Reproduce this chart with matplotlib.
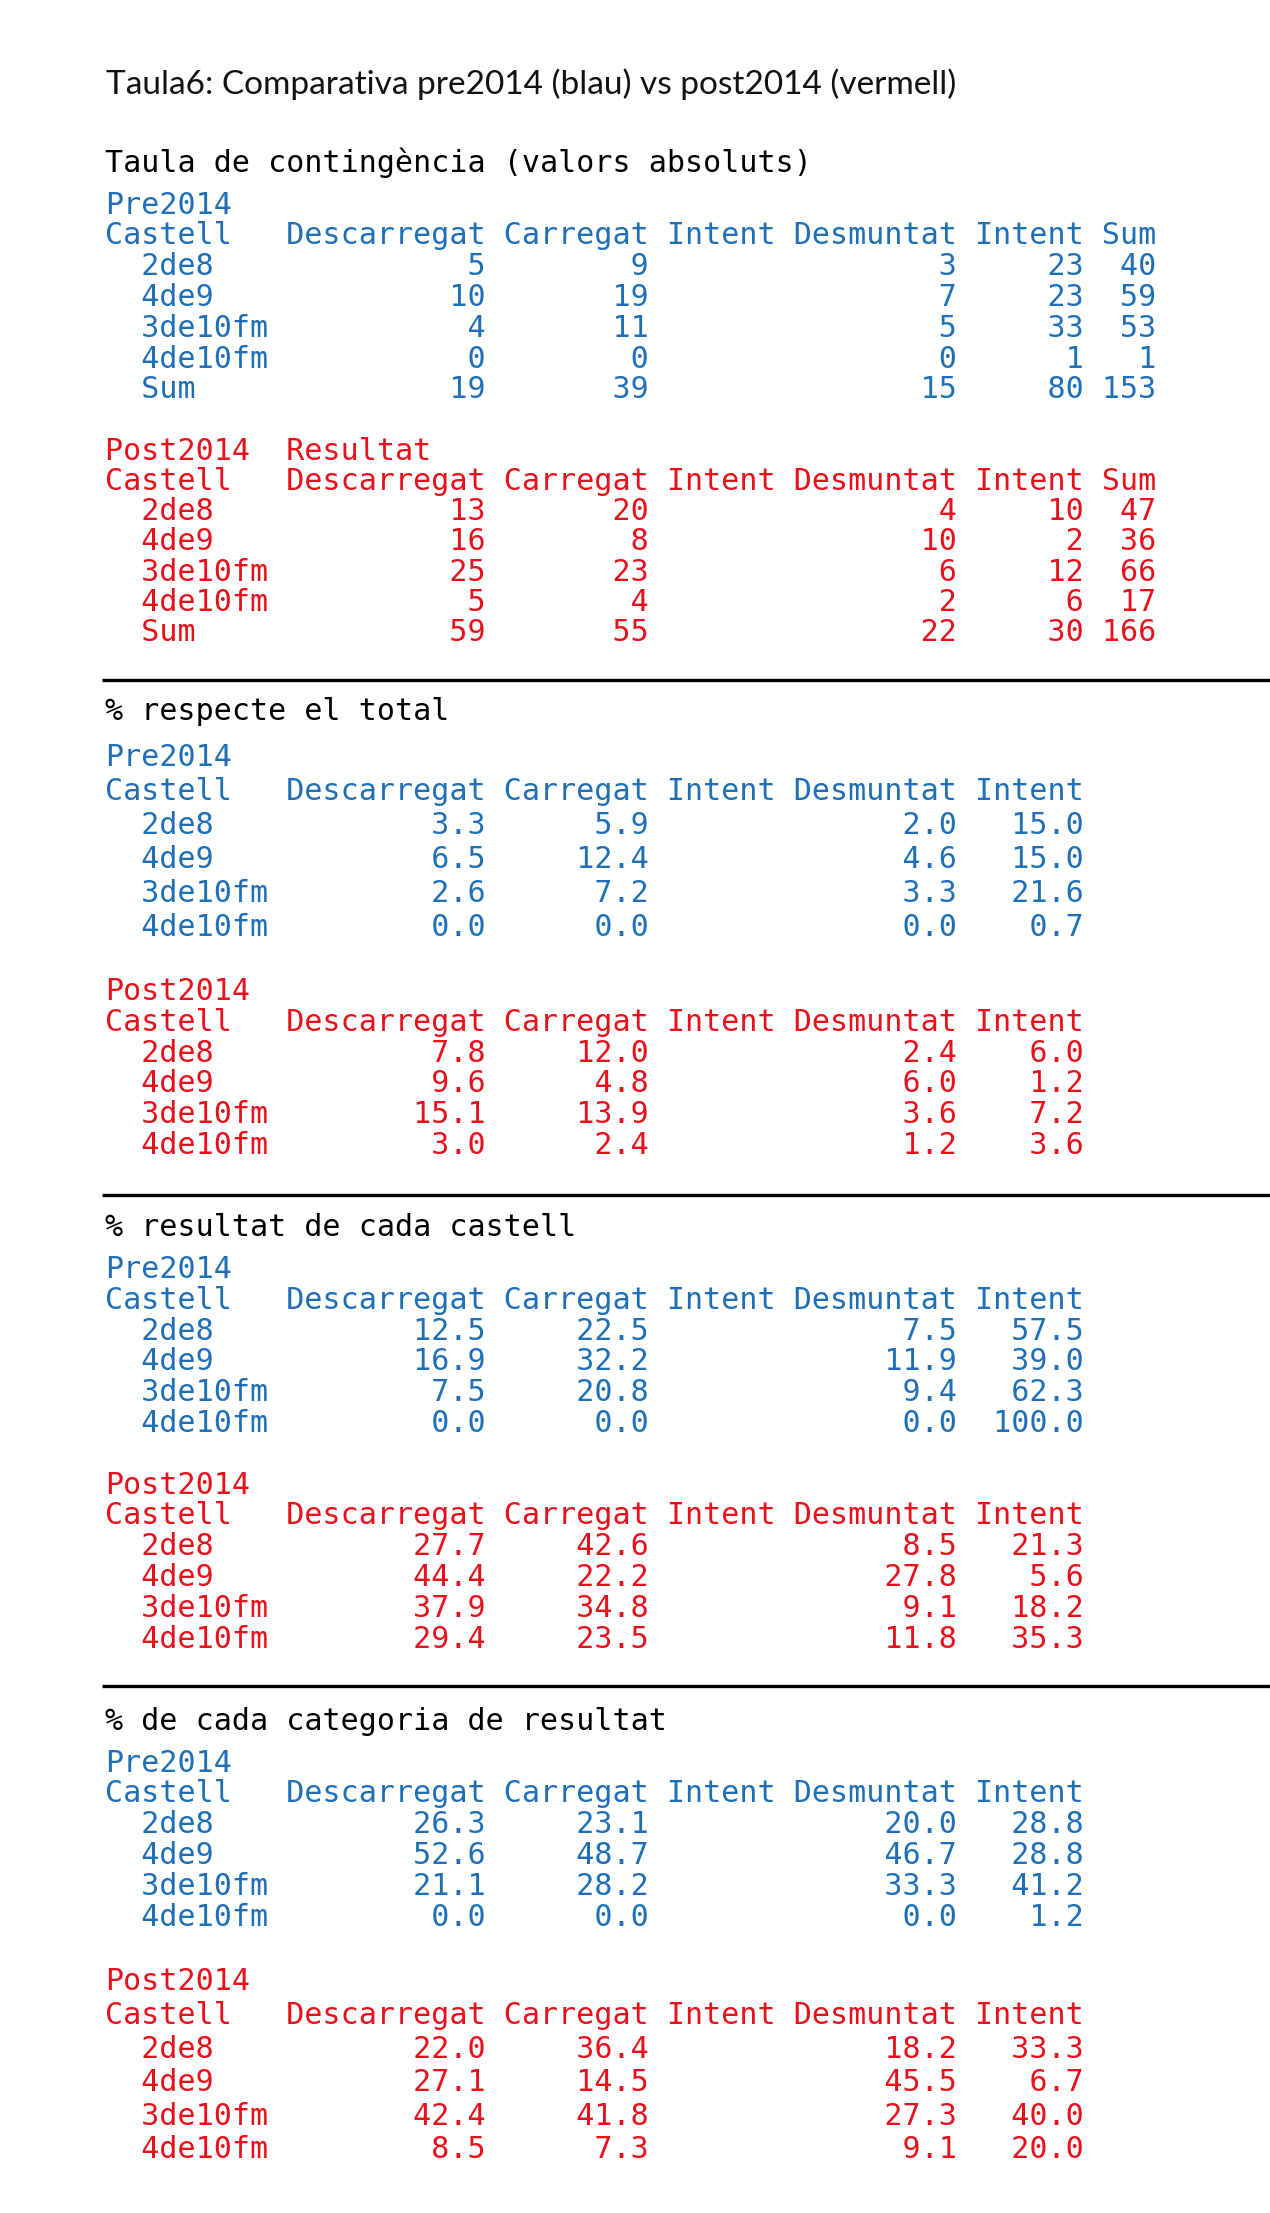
import matplotlib
matplotlib.use("Agg")
import matplotlib.pyplot as plt

# Dades de la taula (llegides de la imatge)
castells = ['2de8', '4de9', '3de10fm', '4de10fm']
resultats = ['Descarregat', 'Carregat', 'Intent Desmuntat', 'Intent']

pre_counts = [[5, 9, 3, 23], [10, 19, 7, 23], [4, 11, 5, 33], [0, 0, 0, 1]]
post_counts = [[13, 20, 4, 10], [16, 8, 10, 2], [25, 23, 6, 12], [5, 4, 2, 6]]

pre_pct_total = [[3.3, 5.9, 2.0, 15.0], [6.5, 12.4, 4.6, 15.0], [2.6, 7.2, 3.3, 21.6], [0.0, 0.0, 0.0, 0.7]]
post_pct_total = [[7.8, 12.0, 2.4, 6.0], [9.6, 4.8, 6.0, 1.2], [15.1, 13.9, 3.6, 7.2], [3.0, 2.4, 1.2, 3.6]]

pre_pct_castell = [[12.5, 22.5, 7.5, 57.5], [16.9, 32.2, 11.9, 39.0], [7.5, 20.8, 9.4, 62.3], [0.0, 0.0, 0.0, 100.0]]
post_pct_castell = [[27.7, 42.6, 8.5, 21.3], [44.4, 22.2, 27.8, 5.6], [37.9, 34.8, 9.1, 18.2], [29.4, 23.5, 11.8, 35.3]]

pre_pct_cat = [[26.3, 23.1, 20.0, 28.8], [52.6, 48.7, 46.7, 28.8], [21.1, 28.2, 33.3, 41.2], [0.0, 0.0, 0.0, 1.2]]
post_pct_cat = [[22.0, 36.4, 18.2, 33.3], [27.1, 14.5, 45.5, 6.7], [42.4, 41.8, 27.3, 40.0], [8.5, 7.3, 9.1, 20.0]]

BLUE = '#1f6fb6'
RED = '#e8101a'
MONO = 'DejaVu Sans Mono'
FS = 21.6


# Format R-like: columna d'etiquetes de 9 caracters, columnes alineades a la dreta
def table_lines(values, decimals, with_sum):
    cols = list(resultats) + (['Sum'] if with_sum else [])
    widths = [len(c) for c in cols]
    header = 'Castell'.ljust(9) + ' ' + ' '.join(cols)
    lines = [header]
    rows = [list(r) for r in values]
    labels = list(castells)
    if with_sum:
        rows = [r + [sum(r)] for r in rows]
        rows.append([sum(r[i] for r in rows) for i in range(len(cols))])
        labels.append('Sum')
    for lab, r in zip(labels, rows):
        cells = [f'{v:.{decimals}f}' if decimals else f'{v:d}' for v in r]
        line = ('  ' + lab).ljust(9) + ' ' + ' '.join(c.rjust(w) for c, w in zip(cells, widths))
        lines.append(line)
    return lines


fig = plt.figure(figsize=(12.7, 22.13), dpi=100)
ax = fig.add_axes([0, 0, 1, 1])
ax.set_xlim(0, 1270)
ax.set_ylim(2213, 0)
ax.axis('off')

X0 = 105
BASE = 10.5  # centre -> baseline


def draw_block(y0, step, first, lines, color):
    allx = [first] + lines
    for i, s in enumerate(allx):
        ax.text(X0, y0 + i * step + BASE, s, family=MONO, fontsize=FS,
                color=color, va='baseline', ha='left')


ax.text(106, 94, 'Taula6: Comparativa pre2014 (blau) vs post2014 (vermell)',
        family='Lato', fontsize=24, color='#111111', va='baseline', ha='left')

sections = [
    (161, None, 'Taula de contingència (valors absoluts)',
     (pre_counts, 0, True, 203, 30.8), (post_counts, 0, True, 449, 30.3)),
    (710, 680, '% respecte el total',
     (pre_pct_total, 1, False, 756, 34.0), (post_pct_total, 1, False, 990, 30.6)),
    (1226, 1195, '% resultat de cada castell',
     (pre_pct_castell, 1, False, 1268, 30.6), (post_pct_castell, 1, False, 1483, 30.8)),
    (1719, 1686, '% de cada categoria de resultat',
     (pre_pct_cat, 1, False, 1761, 30.8), (post_pct_cat, 1, False, 1980, 33.6)),
]

for ty, ly, title, pre, post in sections:
    if ly is not None:
        ax.plot([102, 1270], [ly, ly], color='black', lw=2.4, solid_capstyle='butt')
    ax.text(X0, ty + BASE, title, family=MONO, fontsize=FS, color='black', va='baseline')
    vals, dec, ws, y0, st = pre
    draw_block(y0, st, 'Pre2014', table_lines(vals, dec, ws), BLUE)
    vals, dec, ws, y0, st = post
    first = 'Post2014'.ljust(10) + 'Resultat' if ws else 'Post2014'
    draw_block(y0, st, first, table_lines(vals, dec, ws), RED)

fig.savefig('out.png', dpi=100, facecolor='white')
